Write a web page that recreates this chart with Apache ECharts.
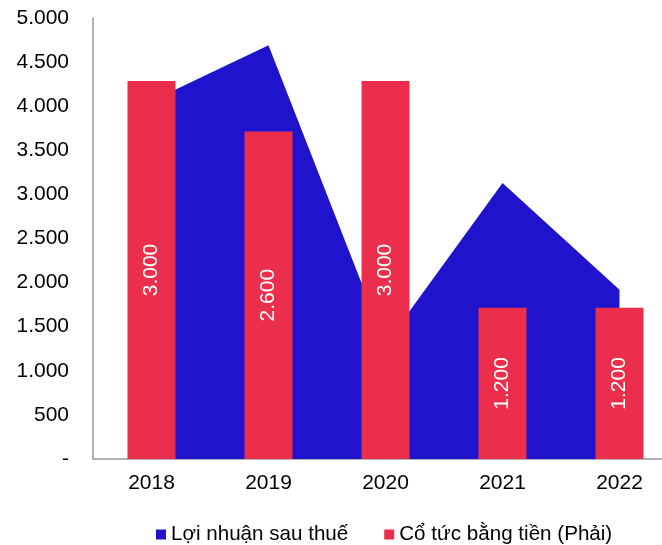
<!DOCTYPE html>
<html>
<head>
<meta charset="utf-8">
<script src="https://cdn.jsdelivr.net/npm/echarts@6/dist/echarts.min.js"></script>
<style>
  html, body { margin: 0; padding: 0; background: #fff; }
  #chart { width: 662px; height: 545px; }
</style>
</head>
<body>
<div id="chart"></div>
<script>
// Years on the category axis
var years = ['2018', '2019', '2020', '2021', '2022'];
// Profit after tax (left axis)
var profit = [4060, 4690, 1300, 3130, 1920];
// Cash dividend (right axis, hidden)
var dividend = [3000, 2600, 3000, 1200, 1200];
// Left axis ticks
var leftMin = 0, leftMax = 5000, leftStep = 500;
var rightMax = 3500;

var FONT = '"Liberation Sans", Arial, sans-serif';
var FS = 21;
var BLUE = '#2013CC';
var RED = '#EA2E4C';

function fmt(v) {
  if (v === 0) return '-';
  return String(v).replace(/\B(?=(\d{3})+(?!\d))/g, '.');
}

var chart = echarts.init(document.getElementById('chart'));
chart.setOption({
  animation: false,
  textStyle: { fontFamily: FONT },
  grid: { left: 93, top: 18, width: 585, bottom: 86, containLabel: false, outerBoundsMode: 'none' },
  legend: {
    top: 519,
    left: 151,
    itemWidth: 10,
    itemHeight: 10,
    itemGap: 36,
    icon: 'rect',
    textStyle: { fontFamily: FONT, fontSize: 20.6, color: '#000' },
    data: ['Lợi nhuận sau thuế', 'Cổ tức bằng tiền (Phải)']
  },
  xAxis: {
    type: 'category',
    data: years,
    boundaryGap: true,
    axisLine: { lineStyle: { color: '#999', width: 1.5 } },
    axisTick: { show: false },
    axisLabel: { color: '#000', fontSize: FS, fontFamily: FONT, margin: 14 }
  },
  yAxis: [{
    type: 'value',
    min: leftMin,
    max: leftMax,
    interval: leftStep,
    axisLine: { show: true, lineStyle: { color: '#999', width: 1.5 } },
    axisTick: { show: false },
    splitLine: { show: false },
    axisLabel: { color: '#000', fontSize: FS, fontFamily: FONT, margin: 24, formatter: fmt }
  }, {
    type: 'value',
    min: 0,
    max: rightMax,
    show: false,
    splitLine: { show: false }
  }],
  series: [{
    name: 'Lợi nhuận sau thuế',
    type: 'line',
    yAxisIndex: 0,
    data: profit,
    symbol: 'none',
    lineStyle: { width: 0, color: BLUE },
    itemStyle: { color: BLUE },
    areaStyle: { color: BLUE, opacity: 1 },
    z: 1
  }, {
    name: 'Cổ tức bằng tiền (Phải)',
    type: 'bar',
    yAxisIndex: 1,
    data: dividend,
    barWidth: 48,
    itemStyle: { color: RED },
    label: {
      show: true,
      position: 'inside',
      rotate: 90,
      color: '#fff',
      fontSize: FS,
      fontFamily: FONT,
      formatter: function (p) { return fmt(p.value); }
    },
    z: 3
  }]
});
</script>
</body>
</html>
